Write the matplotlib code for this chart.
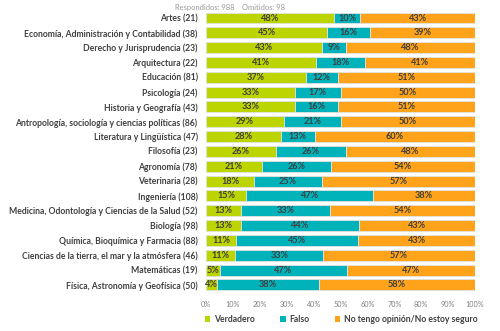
import numpy as np
import matplotlib
matplotlib.use('Agg')
import matplotlib.pyplot as plt
from matplotlib.patches import Patch

plt.rcParams['font.family'] = ['Lato', 'DejaVu Sans']

# carreras y respuestas (%)
categories = ['Artes (21)',
              'Economía, Administración y Contabilidad (38)',
              'Derecho y Jurisprudencia (23)',
              'Arquitectura (22)',
              'Educación (81)',
              'Psicología (24)',
              'Historia y Geografía (43)',
              'Antropología, sociología y ciencias políticas (86)',
              'Literatura y Lingüística (47)',
              'Filosofía (23)',
              'Agronomía (78)',
              'Veterinaria (28)',
              'Ingeniería (108)',
              'Medicina, Odontología y Ciencias de la Salud (52)',
              'Biología (98)',
              'Química, Bioquímica y Farmacia (88)',
              'Ciencias de la tierra, el mar y la atmósfera (46)',
              'Matemáticas (19)',
              'Física, Astronomía y Geofísica (50)']
verdadero = [48, 45, 43, 41, 37, 33, 33, 29, 28, 26, 21, 18, 15, 13, 13, 11, 11, 5, 4]
falso = [10, 16, 9, 18, 12, 17, 16, 21, 13, 26, 26, 25, 47, 33, 44, 45, 33, 47, 38]
no_sabe = [43, 39, 48, 41, 51, 50, 51, 50, 60, 48, 54, 57, 38, 54, 43, 43, 57, 47, 58]
series_names = ['Verdadero', 'Falso', 'No tengo opinión/No estoy seguro']
colors = ['#BCD400', '#00B3BB', '#FFA31A']
header = 'Respondidos: 988    Omitidos: 98'

data = np.array([verdadero, falso, no_sabe], dtype=float)
# Excel scales each bar to 100%
shares = data / data.sum(axis=0) * 100

fig = plt.figure(figsize=(5, 3.31), dpi=100)
ax = fig.add_axes([0.412, 0.117, 0.538, 0.851])

y = np.arange(len(categories))
left = np.zeros(len(categories))
for i in range(3):
    ax.barh(y, shares[i], left=left, height=0.74, color=colors[i],
            edgecolor='#E2E2E2', linewidth=0.6)
    for yi, l, w, lab in zip(y, left, shares[i], data[i]):
        ax.text(l + w / 2, yi, '%d%%' % lab, ha='center', va='center',
                fontsize=6.6, fontweight='bold', color='#404040')
    left += shares[i]

ax.set_ylim(len(categories) - 0.5, -0.5)
ax.set_xlim(0, 100)
ax.set_yticks(y)
ax.set_yticklabels(categories, fontsize=6.2, fontweight='bold', color='#404040')
ax.set_xticks(np.arange(0, 101, 10))
ax.set_xticklabels(['%d%%' % v for v in range(0, 101, 10)], fontsize=5.2, color='#808080')
ax.tick_params(axis='both', length=0, pad=3)
ax.tick_params(axis='y', pad=6)
ax.tick_params(axis='x', pad=6)
for s in ax.spines.values():
    s.set_visible(False)

fig.text(0.35, 0.988, header, fontsize=5.4, color='#999999', va='top')

handles = [Patch(facecolor=c) for c in colors]
leg = fig.legend(handles, series_names, loc='center left', bbox_to_anchor=(0.395, 0.034),
                 ncol=3, frameon=False, fontsize=6.2, handlelength=0.6, handleheight=0.6,
                 columnspacing=3.0, handletextpad=0.4)
for t in leg.get_texts():
    t.set_color('#404040')
    t.set_fontweight('bold')

fig.savefig('out.png', dpi=100)
